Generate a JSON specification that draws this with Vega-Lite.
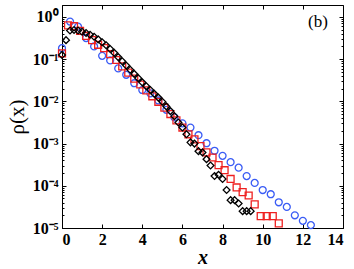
{
  "$schema": "https://vega.github.io/schema/vega-lite/v6.json",
  "width": 281,
  "height": 223,
  "autosize": {"type": "none"},
  "padding": {"left": 62, "top": 5, "right": 11, "bottom": 41},
  "background": "white",
  "config": {
    "view": {"stroke": "black", "strokeWidth": 1},
    "axis": {
      "domainColor": "black",
      "tickColor": "black",
      "grid": false,
      "labelFont": "Liberation Serif",
      "labelFontWeight": "bold",
      "labelFontSize": 16,
      "labelColor": "black",
      "titleFont": "Liberation Serif",
      "titleColor": "black"
    }
  },
  "datasets": {
    "pts": [
      {"s": "blue", "x": 0.0, "y": 0.182},
      {"s": "blue", "x": 0.4, "y": 0.776},
      {"s": "blue", "x": 0.8, "y": 0.589},
      {"s": "blue", "x": 1.2, "y": 0.316},
      {"s": "blue", "x": 1.6, "y": 0.2},
      {"s": "blue", "x": 2.0, "y": 0.12},
      {"s": "blue", "x": 2.4, "y": 0.0933},
      {"s": "blue", "x": 2.8, "y": 0.0603},
      {"s": "blue", "x": 3.2, "y": 0.0427},
      {"s": "blue", "x": 3.6, "y": 0.0269},
      {"s": "blue", "x": 4.0, "y": 0.0186},
      {"s": "blue", "x": 4.4, "y": 0.0155},
      {"s": "blue", "x": 4.8, "y": 0.0105},
      {"s": "blue", "x": 5.2, "y": 0.00631},
      {"s": "blue", "x": 5.6, "y": 0.00417},
      {"s": "blue", "x": 6.0, "y": 0.00302},
      {"s": "blue", "x": 6.4, "y": 0.0024},
      {"s": "blue", "x": 6.8, "y": 0.00158},
      {"s": "blue", "x": 7.2, "y": 0.00102},
      {"s": "blue", "x": 7.6, "y": 0.000676},
      {"s": "blue", "x": 8.0, "y": 0.000513},
      {"s": "blue", "x": 8.4, "y": 0.000363},
      {"s": "blue", "x": 8.8, "y": 0.000269},
      {"s": "blue", "x": 9.2, "y": 0.00017},
      {"s": "blue", "x": 9.6, "y": 0.000117},
      {"s": "blue", "x": 10.0, "y": 0.0000794},
      {"s": "blue", "x": 10.4, "y": 0.0000631},
      {"s": "blue", "x": 10.8, "y": 0.0000407},
      {"s": "blue", "x": 11.2, "y": 0.0000316},
      {"s": "blue", "x": 11.6, "y": 0.00002},
      {"s": "blue", "x": 12.0, "y": 0.0000148},
      {"s": "blue", "x": 12.4, "y": 0.0000117},
      {"s": "red", "x": 0.0, "y": 0.138},
      {"s": "red", "x": 0.3, "y": 0.631},
      {"s": "red", "x": 0.6, "y": 0.603},
      {"s": "red", "x": 0.9, "y": 0.468},
      {"s": "red", "x": 1.2, "y": 0.355},
      {"s": "red", "x": 1.5, "y": 0.282},
      {"s": "red", "x": 1.8, "y": 0.219},
      {"s": "red", "x": 2.1, "y": 0.182},
      {"s": "red", "x": 2.4, "y": 0.132},
      {"s": "red", "x": 2.7, "y": 0.0955},
      {"s": "red", "x": 3.0, "y": 0.0676},
      {"s": "red", "x": 3.3, "y": 0.0479},
      {"s": "red", "x": 3.6, "y": 0.0347},
      {"s": "red", "x": 3.9, "y": 0.0251},
      {"s": "red", "x": 4.2, "y": 0.0182},
      {"s": "red", "x": 4.5, "y": 0.0132},
      {"s": "red", "x": 4.8, "y": 0.00977},
      {"s": "red", "x": 5.1, "y": 0.00708},
      {"s": "red", "x": 5.4, "y": 0.00501},
      {"s": "red", "x": 5.7, "y": 0.00355},
      {"s": "red", "x": 6.0, "y": 0.0024},
      {"s": "red", "x": 6.3, "y": 0.00166},
      {"s": "red", "x": 6.6, "y": 0.00126},
      {"s": "red", "x": 6.9, "y": 0.000871},
      {"s": "red", "x": 7.2, "y": 0.000617},
      {"s": "red", "x": 7.5, "y": 0.000468},
      {"s": "red", "x": 7.8, "y": 0.000309},
      {"s": "red", "x": 8.1, "y": 0.000234},
      {"s": "red", "x": 8.4, "y": 0.000145},
      {"s": "red", "x": 8.7, "y": 0.0000912},
      {"s": "red", "x": 9.0, "y": 0.0000708},
      {"s": "red", "x": 9.3, "y": 0.0000589},
      {"s": "red", "x": 9.6, "y": 0.0000363},
      {"s": "red", "x": 9.9, "y": 0.0000191},
      {"s": "red", "x": 10.2, "y": 0.0000191},
      {"s": "red", "x": 10.5, "y": 0.0000191},
      {"s": "red", "x": 10.8, "y": 0.0000129}
    ],
    "black": [
      {"x": 0.0, "y": 0.126},
      {"x": 0.2, "y": 0.282},
      {"x": 0.4, "y": 0.479},
      {"x": 0.6, "y": 0.49},
      {"x": 0.8, "y": 0.479},
      {"x": 1.0, "y": 0.447},
      {"x": 1.2, "y": 0.417},
      {"x": 1.4, "y": 0.38},
      {"x": 1.6, "y": 0.339},
      {"x": 1.8, "y": 0.295},
      {"x": 2.0, "y": 0.251},
      {"x": 2.2, "y": 0.214},
      {"x": 2.4, "y": 0.174},
      {"x": 2.6, "y": 0.141},
      {"x": 2.8, "y": 0.112},
      {"x": 3.0, "y": 0.0891},
      {"x": 3.2, "y": 0.0708},
      {"x": 3.4, "y": 0.0562},
      {"x": 3.6, "y": 0.0447},
      {"x": 3.8, "y": 0.0355},
      {"x": 4.0, "y": 0.0282},
      {"x": 4.2, "y": 0.0229},
      {"x": 4.4, "y": 0.0186},
      {"x": 4.6, "y": 0.0151},
      {"x": 4.8, "y": 0.0123},
      {"x": 5.0, "y": 0.00977},
      {"x": 5.2, "y": 0.00759},
      {"x": 5.4, "y": 0.00589},
      {"x": 5.6, "y": 0.00447},
      {"x": 5.8, "y": 0.00316},
      {"x": 6.0, "y": 0.0024},
      {"x": 6.2, "y": 0.00166},
      {"x": 6.4, "y": 0.00107},
      {"x": 6.6, "y": 0.001},
      {"x": 6.8, "y": 0.000661},
      {"x": 7.0, "y": 0.000617},
      {"x": 7.2, "y": 0.000427},
      {"x": 7.4, "y": 0.000302},
      {"x": 7.6, "y": 0.00017},
      {"x": 7.8, "y": 0.000182},
      {"x": 8.0, "y": 0.000145},
      {"x": 8.2, "y": 0.0000794},
      {"x": 8.4, "y": 0.0000457},
      {"x": 8.6, "y": 0.0000457},
      {"x": 8.8, "y": 0.000038},
      {"x": 9.0, "y": 0.0000251},
      {"x": 9.2, "y": 0.0000251},
      {"x": 9.4, "y": 0.0000251}
    ],
    "note": [
      {"x": 12.75, "y": 0.76, "label": "(b)"}
    ]
  },
  "layer": [
    {
      "data": {"name": "pts"},
      "mark": {"type": "point", "filled": false, "strokeWidth": 1.3, "size": 48, "opacity": 1},
      "encoding": {
        "x": {
          "field": "x", "type": "quantitative",
          "scale": {"domain": [0, 14], "nice": false, "zero": false},
          "axis": {
            "orient": "bottom",
            "values": [0, 2, 4, 6, 8, 10, 12, 14],
            "tickSize": -4,
            "labelPadding": 7,
            "title": "x",
            "titleFontStyle": "italic",
            "titleFontWeight": "bold",
            "titleFontSize": 20,
            "titlePadding": 0
          }
        },
        "y": {
          "field": "y", "type": "quantitative",
          "scale": {"type": "log", "domain": [0.00001, 1.92], "nice": false},
          "axis": {
            "orient": "left",
            "values": [0.00001, 0.00002, 0.00003, 0.00004, 0.00005, 0.00006, 0.00007, 0.00008, 0.00009, 0.0001, 0.0002, 0.0003, 0.0004, 0.0005, 0.0006, 0.0007, 0.0008, 0.0009, 0.001, 0.002, 0.003, 0.004, 0.005, 0.006, 0.007, 0.008, 0.009, 0.01, 0.02, 0.03, 0.04, 0.05, 0.06, 0.07, 0.08, 0.09, 0.1, 0.2, 0.3, 0.4, 0.5, 0.6, 0.7, 0.8, 0.9, 1],
            "tickSize": {"condition": {"test": "abs(log(datum.value) / LN10 - round(log(datum.value) / LN10)) < 0.01", "value": -4}, "value": -2},
            "labelPadding": 8,
            "labelExpr": "abs(log(datum.value) / LN10 - round(log(datum.value) / LN10)) > 0.01 ? '' : datum.value > 0.5 ? '10⁰' : datum.value > 0.05 ? '10⁻¹' : datum.value > 0.005 ? '10⁻²' : datum.value > 0.0005 ? '10⁻³' : datum.value > 0.00005 ? '10⁻⁴' : '10⁻⁵'",
            "title": "ρ(x)",
            "titleFontWeight": "normal",
            "titleFontSize": 21,
            "titlePadding": 5
          }
        },
        "color": {
          "field": "s", "type": "nominal",
          "scale": {"domain": ["blue", "red"], "range": ["#3a5cf5", "#ee2020"]},
          "legend": null
        },
        "shape": {
          "field": "s", "type": "nominal",
          "scale": {"domain": ["blue", "red"], "range": ["circle", "square"]},
          "legend": null
        }
      }
    },
    {
      "data": {"name": "black"},
      "mark": {"type": "point", "shape": "diamond", "filled": false, "strokeWidth": 1.3, "size": 46, "color": "black", "opacity": 1},
      "encoding": {
        "x": {
          "field": "x", "type": "quantitative",
          "scale": {"domain": [0, 14], "nice": false, "zero": false},
          "axis": {"orient": "top", "values": [0, 2, 4, 6, 8, 10, 12, 14], "tickSize": -4, "labels": false, "title": null, "domain": false}
        },
        "y": {
          "field": "y", "type": "quantitative",
          "scale": {"type": "log", "domain": [0.00001, 1.92], "nice": false},
          "axis": {
            "orient": "right",
            "values": [0.00001, 0.00002, 0.00003, 0.00004, 0.00005, 0.00006, 0.00007, 0.00008, 0.00009, 0.0001, 0.0002, 0.0003, 0.0004, 0.0005, 0.0006, 0.0007, 0.0008, 0.0009, 0.001, 0.002, 0.003, 0.004, 0.005, 0.006, 0.007, 0.008, 0.009, 0.01, 0.02, 0.03, 0.04, 0.05, 0.06, 0.07, 0.08, 0.09, 0.1, 0.2, 0.3, 0.4, 0.5, 0.6, 0.7, 0.8, 0.9, 1],
            "tickSize": {"condition": {"test": "abs(log(datum.value) / LN10 - round(log(datum.value) / LN10)) < 0.01", "value": -4}, "value": -2},
            "labels": false, "title": null, "domain": false
          }
        }
      }
    },
    {
      "data": {"name": "note"},
      "mark": {"type": "text", "font": "Liberation Serif", "fontSize": 17, "color": "black", "align": "center", "baseline": "middle"},
      "encoding": {
        "x": {"field": "x", "type": "quantitative", "scale": {"domain": [0, 14], "nice": false, "zero": false}, "axis": null},
        "y": {"field": "y", "type": "quantitative", "scale": {"type": "log", "domain": [0.00001, 1.92], "nice": false}, "axis": null},
        "text": {"field": "label"}
      }
    }
  ],
  "resolve": {"axis": {"x": "independent", "y": "independent"}}
}
